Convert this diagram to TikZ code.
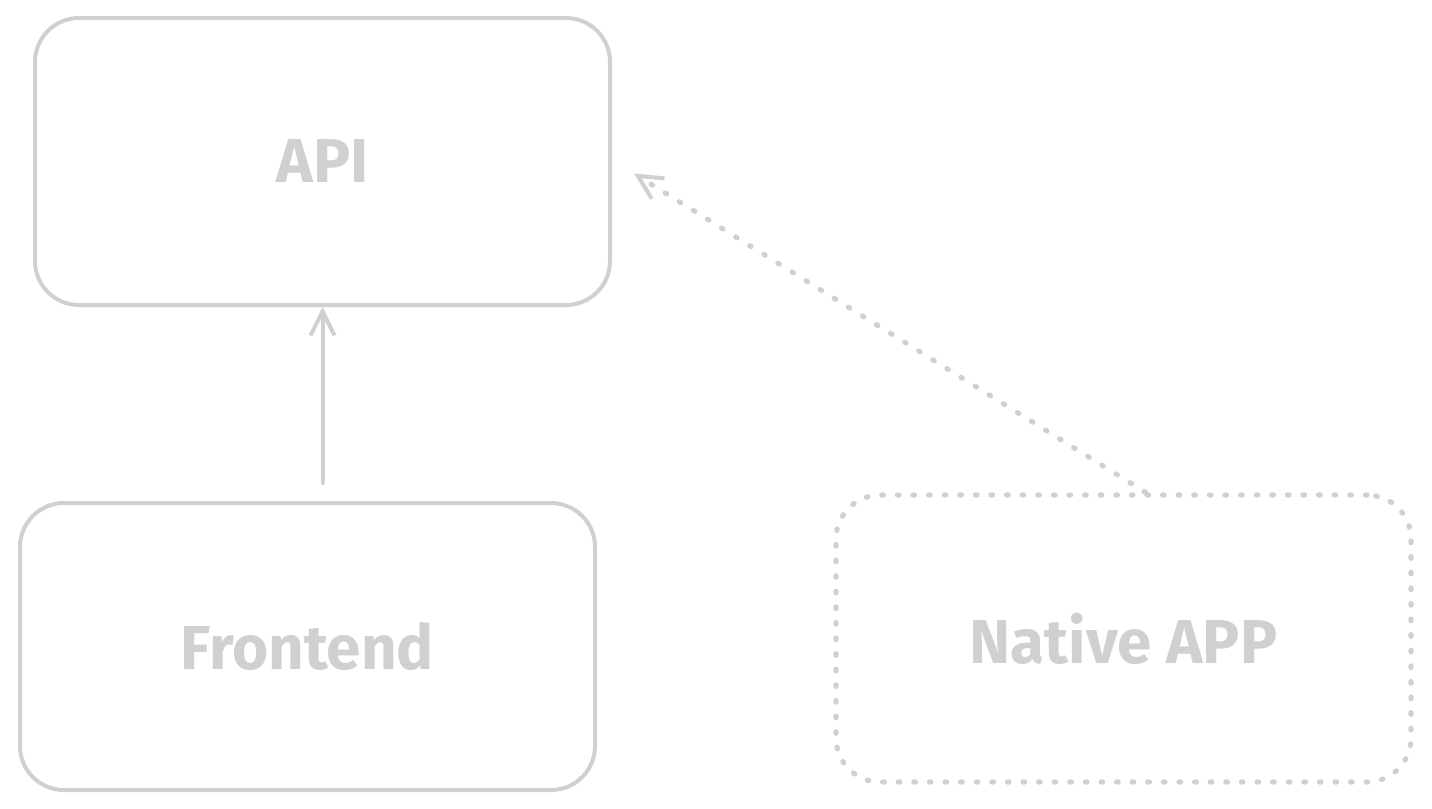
\documentclass[tikz,border=0pt]{standalone}
\usepackage{fontspec}
\setmainfont{Fira Sans}
\usetikzlibrary{arrows.meta}
\definecolor{sketch}{HTML}{D0D0D0}
\tikzset{
  box/.style={draw=sketch, line width=2pt, rounded corners=22pt,
    minimum width=287.5pt, minimum height=143.5pt, text=sketch,
    font=\fontsize{31}{36}\selectfont\bfseries},
  dotbox/.style={box, draw=sketch, line width=2.6pt, line cap=round,
    dash pattern=on 0.8pt off 7pt},
  arr/.style={draw=sketch, line width=2pt, line cap=round,
    -{Straight Barb[length=12pt, width=12pt, line width=2pt]}},
  dotarr/.style={arr, line width=2.6pt, dash pattern=on 0.8pt off 7.5pt}
}
\begin{document}
\begin{tikzpicture}[x=0.5pt, y=-0.5pt]
\useasboundingbox (0,0) rectangle (1432,809);
\node[box] (api) at (322.5,161.5){API};
\node[box] (front) at (307.5,646.5){Frontend};
\node[dotbox] (native) at (1123.5,638.5){Native APP};
\draw[arr, shorten <=9pt] (front.north -| api.south) -- (api.south);
\draw[dotarr] ([xshift=11pt]native.north) -- ([xshift=11pt, yshift=-6pt]api.east);

\end{tikzpicture}
\end{document}
